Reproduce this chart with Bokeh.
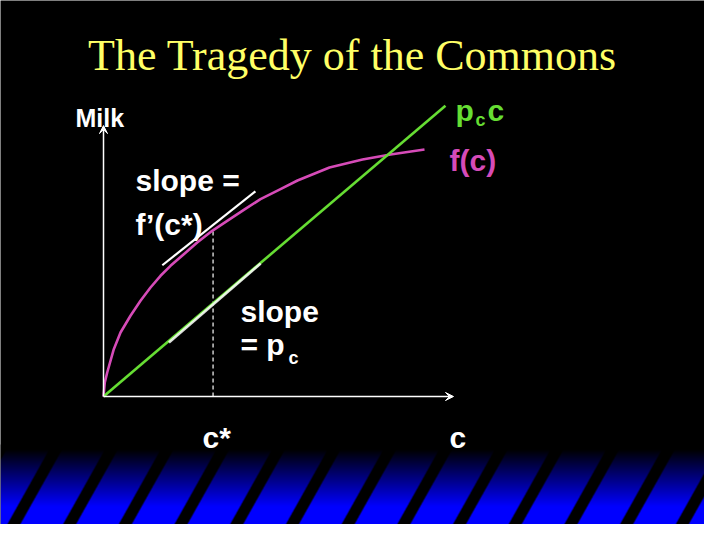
import numpy as np

from bokeh.embed import file_html
from bokeh.models import Arrow, Label, Range1d, VeeHead
from bokeh.plotting import figure
from bokeh.resources import INLINE

# Values (c on the x axis, milk on the y axis)
fc_c = [0.000, 0.037, 0.106, 0.294, 0.486, 0.771, 1.057, 1.343, 1.629, 1.914,
        2.294, 2.677, 3.106, 3.534, 4.009, 4.486, 5.057, 5.543, 6.457, 7.400,
        8.200, 9.171]
fc_milk = [0.000, 0.400, 0.686, 1.351, 1.829, 2.306, 2.734, 3.114, 3.449, 3.734,
           4.066, 4.400, 4.734, 5.020, 5.334, 5.637, 5.923, 6.171, 6.543, 6.771,
           6.914, 7.057]

# p_c * c line
pc_c = [0.00, 9.77]
pc_milk = [0.00, 8.31]

# white "slope = p_c" piece laid on the green line
pc_seg_c = [1.87, 4.49]
pc_seg_milk = [1.54, 3.80]

# tangent to f(c) at c*
tan_c = [1.68, 4.34]
tan_milk = [3.75, 5.86]

c_star = 3.13
f_c_star = 4.78

c_axis_max = 10.0
milk_axis_max = 7.74

MAGENTA = "#d64bb8"
GREEN = "#66dd33"
YELLOW = "#ffff66"
SANS = "Liberation Sans"

# 35 px per unit, origin of the diagram sits at (111, 404) on the slide
p = figure(width=704, height=524, output_backend="svg", toolbar_location=None,
           x_range=Range1d(-2.943, 17.171), y_range=Range1d(-3.657, 11.314),
           x_axis_location=None, y_axis_location=None, min_border=0,
           background_fill_color="black", border_fill_color="black")
p.outline_line_color = None
p.grid.grid_line_color = None

# striped blue band along the bottom of the slide
ss = 3
rows, cols = 80, 704
ys = 452 + (np.arange(rows * ss) + 0.5) / ss
xs = 8 + (np.arange(cols * ss) + 0.5) / ss
X, Y = np.meshgrid(xs, ys)
blue = np.clip((Y - 457) / 57.0, 0, 1) * 255
stripe = np.mod(X + 0.56 * (Y - 460) - 55, 55.7) < 13
val = np.where(stripe, 0, blue)
val = val.reshape(rows, ss, cols, ss).mean(axis=(1, 3))[::-1]
img = np.zeros((rows, cols), dtype=np.uint32)
view = img.view(dtype=np.uint8).reshape(rows, cols, 4)
view[:, :, 2] = val.astype(np.uint8)
view[:, :, 3] = 255
p.image_rgba(image=[img], x=-2.943, y=-3.657, dw=cols / 35, dh=rows / 35)

# axes with arrow heads
p.add_layout(Arrow(end=VeeHead(size=8, fill_color="white", line_color="white"),
                   x_start=0, y_start=0, x_end=c_axis_max, y_end=0,
                   line_color="white", line_width=1.5))
p.add_layout(Arrow(end=VeeHead(size=8, fill_color="white", line_color="white"),
                   x_start=0, y_start=0, x_end=0, y_end=milk_axis_max,
                   line_color="white", line_width=1.5))

p.line([c_star, c_star], [0, f_c_star], line_color="white", line_width=1.2,
       line_dash="4 3")
p.line(fc_c, fc_milk, line_color=MAGENTA, line_width=2.6, line_join="round")
p.line(pc_c, pc_milk, line_color=GREEN, line_width=2.6)
p.line(pc_seg_c, pc_seg_milk, line_color="white", line_alpha=0.85, line_width=2.6)
p.line(tan_c, tan_milk, line_color="white", line_width=2.2)


def label(x, y, text, color="white", size="30px", font=SANS, style="bold", align="left"):
    p.add_layout(Label(x=x, y=y, text=text, text_color=color, text_font=font,
                       text_font_size=size, text_font_style=style,
                       text_align=align, text_baseline="alphabetic"))


label(7.114, 9.743, "The Tragedy of the Commons", color=YELLOW, size="44px",
      font="Liberation Serif", style="normal", align="center")
label(-0.8, 7.943, "Milk", size="25px")
label(0.914, 6.171, "slope =")
label(0.914, 4.914, "f\u2019(c*)")
label(3.914, 2.429, "slope")
label(3.914, 1.486, "= p")
label(5.286, 1.086, "c", size="18px")
label(10.057, 8.171, "p", color=GREEN)
label(10.629, 7.914, "c", color=GREEN, size="18px")
label(10.971, 8.171, "c", color=GREEN)
label(9.886, 6.743, "f(c)", color=MAGENTA)
label(2.829, -1.171, "c*")
label(9.886, -1.171, "c")

open("out.html", "w").write(file_html(p, INLINE))
